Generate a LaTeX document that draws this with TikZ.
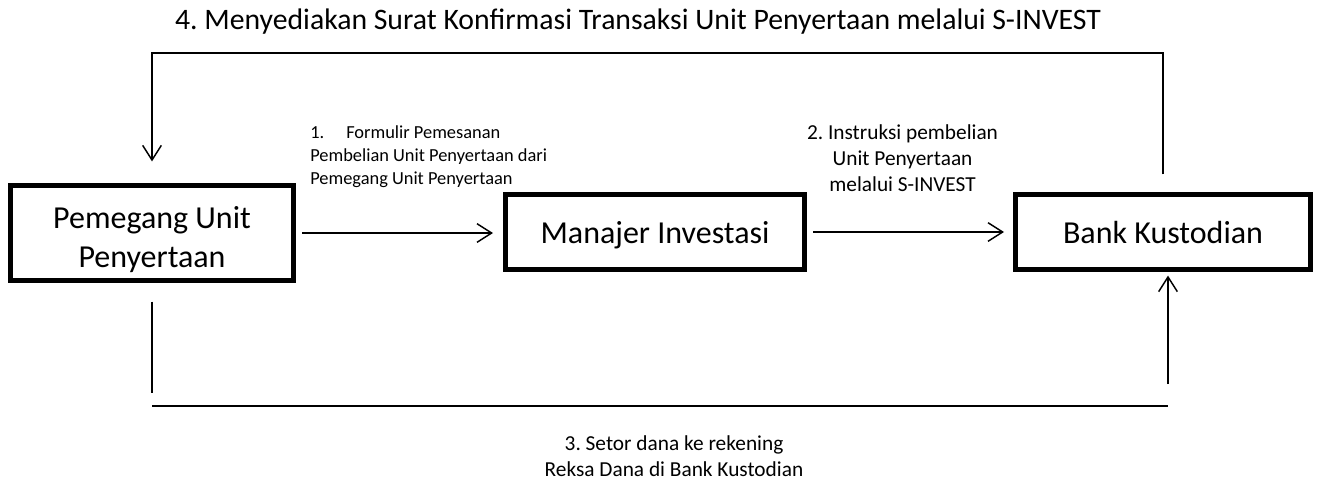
\documentclass[tikz,border=0pt]{standalone}
\usepackage{fontspec}
\setmainfont{Carlito}
\usetikzlibrary{arrows.meta}
\frenchspacing

\begin{document}
\begin{tikzpicture}[x=0.75pt,y=0.75pt,yscale=-1,xscale=1,
  pihak/.style={draw, line width=3.75pt, inner sep=0pt, align=center, font=\fontsize{24pt}{29.25pt}\selectfont},
  alur/.style={line width=1.1pt, -{Straight Barb[length=11pt,width=14pt,line width=1.1pt]}},
  garis/.style={line width=1.1pt},
  ket/.style={inner sep=0pt, align=center, font=\fontsize{16pt}{19.5pt}\selectfont}]
%set diagram size to 1319 x 480
\useasboundingbox (0,0) rectangle (1319,480);

%Boxes
\node[pihak, minimum width=212.25pt, minimum height=71.25pt, text height=51pt, text depth=0pt] (pemegang) at (152,233) {Pemegang Unit\\Penyertaan};
\node[pihak, minimum width=224.25pt, minimum height=56.25pt, text height=16.5pt, text depth=0pt] (manajer) at (655,232) {Manajer Investasi};
\node[pihak, minimum width=221.25pt, minimum height=56.25pt, text height=16.5pt, text depth=0pt] (bank) at (1163,232) {Bank Kustodian};

%Straight Lines 1 and 2
\draw[alur, shorten <=4.5pt, shorten >=7.5pt] (pemegang.east) -- (pemegang.east -| manajer.west);
\draw[alur, shorten <=4.5pt, shorten >=6.75pt] (manajer.east) -- (bank.west);

%Straight Lines 4, back over the top
\coordinate (atas) at (655,53);
\draw[alur, shorten <=13.2pt, shorten >=16.2pt] (bank.north) |- (atas) -| (pemegang.north);

%Straight Lines 3, along the bottom
\coordinate (kiri) at (152,393);
\coordinate (bawahkiri) at (152,406);
\coordinate (bawahkanan) at (1168,406);
\coordinate (kanan) at (1168,384);
\draw[garis, shorten <=14pt] (pemegang.south) -- (kiri);
\draw[line width=1.5pt] (bawahkiri) -- (bawahkanan);
\draw[alur, shorten >=2.7pt] (kanan) -- (kanan |- bank.south);

% Text Node
\node[inner sep=0pt, anchor=base, font=\fontsize{22.3pt}{27pt}\selectfont] (ket4) at (638,29) {4. Menyediakan Surat Konfirmasi Transaksi Unit Penyertaan melalui S-INVEST};
% Text Node
\node[ket, align=left, anchor=north west, font=\fontsize{13.8pt}{17.25pt}\selectfont] (ket1) at (310,125) {\makebox[27pt][l]{1.}Formulir Pemesanan\\Pembelian Unit Penyertaan dari\\Pemegang Unit Penyertaan};
% Text Node
\node[ket, anchor=north] (ket2) at (902.5,124) {2. Instruksi pembelian\\Unit Penyertaan\\melalui S-INVEST};
% Text Node
\node[ket, anchor=north] (ket3) at (674,435) {3. Setor dana ke rekening\\Reksa Dana di Bank Kustodian};

\end{tikzpicture}
\end{document}
